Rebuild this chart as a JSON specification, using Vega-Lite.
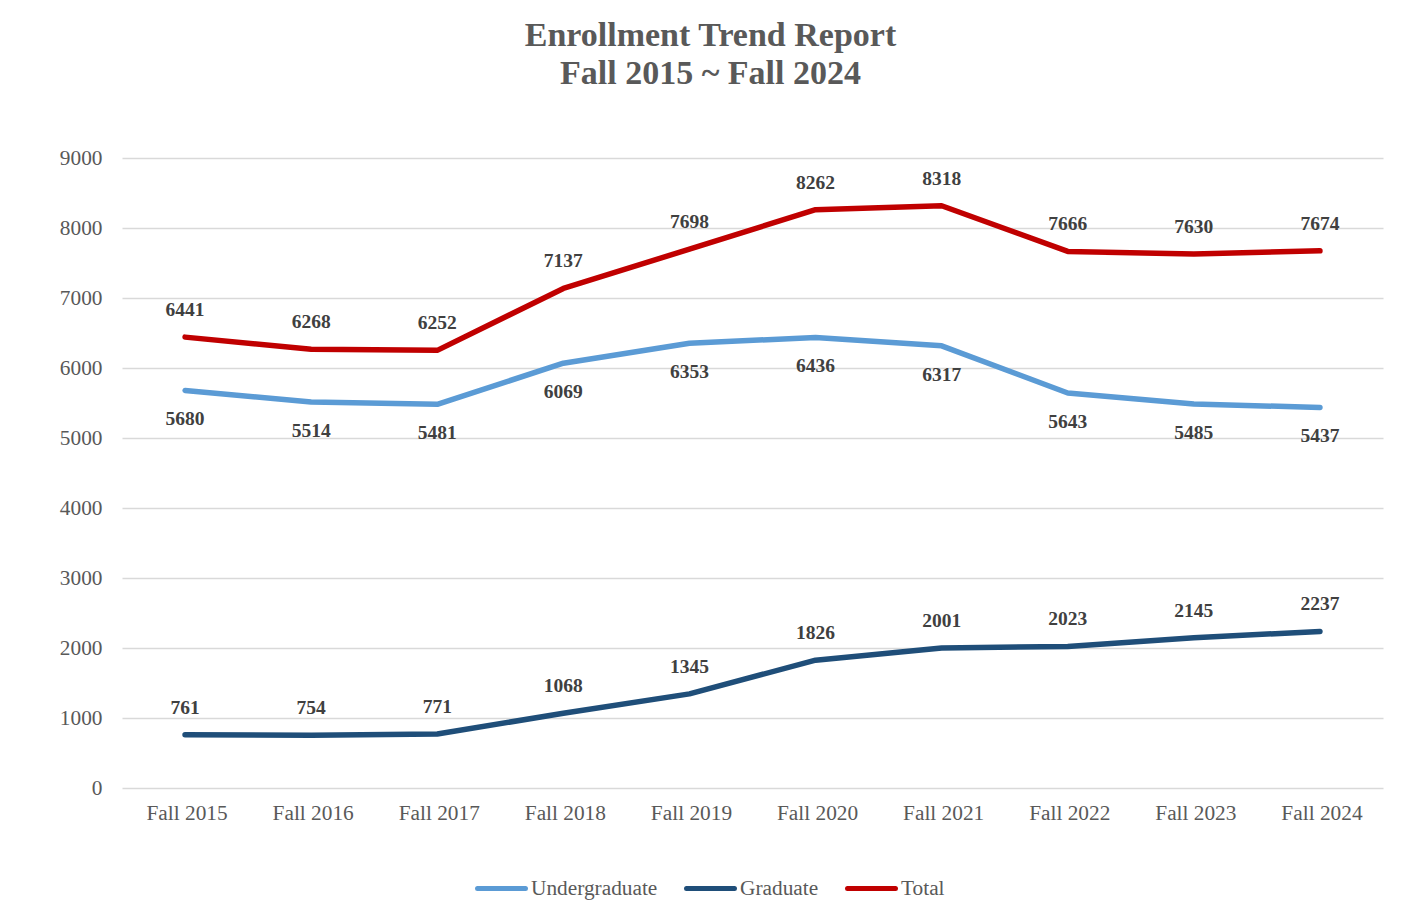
{
  "$schema": "https://vega.github.io/schema/vega-lite/v6.json",
  "autosize": "none",
  "width": 1261,
  "height": 630,
  "padding": {"left": 122, "top": 158, "right": 18, "bottom": 133},
  "background": "white",
  "title": {
    "text": ["Enrollment Trend Report", "Fall 2015 ~ Fall 2024"],
    "font": "Liberation Serif",
    "fontSize": 34,
    "fontWeight": "bold",
    "color": "#595959",
    "lineHeight": 38,
    "anchor": "middle",
    "frame": "group",
    "dx": -42,
    "offset": 56
  },
  "data": {
    "values": [
      {"year": "Fall 2015", "series": "Undergraduate", "value": 5680},
      {"year": "Fall 2016", "series": "Undergraduate", "value": 5514},
      {"year": "Fall 2017", "series": "Undergraduate", "value": 5481},
      {"year": "Fall 2018", "series": "Undergraduate", "value": 6069},
      {"year": "Fall 2019", "series": "Undergraduate", "value": 6353},
      {"year": "Fall 2020", "series": "Undergraduate", "value": 6436},
      {"year": "Fall 2021", "series": "Undergraduate", "value": 6317},
      {"year": "Fall 2022", "series": "Undergraduate", "value": 5643},
      {"year": "Fall 2023", "series": "Undergraduate", "value": 5485},
      {"year": "Fall 2024", "series": "Undergraduate", "value": 5437},
      {"year": "Fall 2015", "series": "Graduate", "value": 761},
      {"year": "Fall 2016", "series": "Graduate", "value": 754},
      {"year": "Fall 2017", "series": "Graduate", "value": 771},
      {"year": "Fall 2018", "series": "Graduate", "value": 1068},
      {"year": "Fall 2019", "series": "Graduate", "value": 1345},
      {"year": "Fall 2020", "series": "Graduate", "value": 1826},
      {"year": "Fall 2021", "series": "Graduate", "value": 2001},
      {"year": "Fall 2022", "series": "Graduate", "value": 2023},
      {"year": "Fall 2023", "series": "Graduate", "value": 2145},
      {"year": "Fall 2024", "series": "Graduate", "value": 2237},
      {"year": "Fall 2015", "series": "Total", "value": 6441},
      {"year": "Fall 2016", "series": "Total", "value": 6268},
      {"year": "Fall 2017", "series": "Total", "value": 6252},
      {"year": "Fall 2018", "series": "Total", "value": 7137},
      {"year": "Fall 2019", "series": "Total", "value": 7698},
      {"year": "Fall 2020", "series": "Total", "value": 8262},
      {"year": "Fall 2021", "series": "Total", "value": 8318},
      {"year": "Fall 2022", "series": "Total", "value": 7666},
      {"year": "Fall 2023", "series": "Total", "value": 7630},
      {"year": "Fall 2024", "series": "Total", "value": 7674}
    ]
  },
  "encoding": {
    "x": {
      "field": "year",
      "type": "ordinal",
      "scale": {"type": "band", "paddingInner": 0, "paddingOuter": 0},
      "axis": {
        "title": null,
        "labelAngle": 0,
        "ticks": false,
        "domain": false,
        "grid": false,
        "labelFont": "Liberation Serif",
        "labelFontSize": 21.33,
        "labelColor": "#595959",
        "labelPadding": 14,
        "labelOffset": 2
      }
    },
    "y": {
      "field": "value",
      "type": "quantitative",
      "scale": {"domain": [0, 9000], "nice": false},
      "axis": {
        "title": null,
        "values": [0, 1000, 2000, 3000, 4000, 5000, 6000, 7000, 8000, 9000],
        "format": "d",
        "ticks": false,
        "domain": false,
        "grid": true,
        "gridColor": "#D9D9D9",
        "gridWidth": 1.5,
        "labelFont": "Liberation Serif",
        "labelFontSize": 21.33,
        "labelColor": "#595959",
        "labelPadding": 20
      }
    }
  },
  "layer": [
    {
      "mark": {"type": "line", "strokeWidth": 5.5, "strokeCap": "round", "strokeJoin": "round"},
      "encoding": {
        "color": {
          "field": "series",
          "type": "nominal",
          "scale": {
            "domain": ["Undergraduate", "Graduate", "Total"],
            "range": ["#5B9BD5", "#1F4E79", "#C00000"]
          },
          "legend": {
            "title": null,
            "orient": "none",
            "direction": "horizontal",
            "legendX": 353,
            "legendY": 704,
            "symbolType": "stroke",
            "symbolStrokeWidth": 5,
            "symbolSize": 2300,
            "labelFont": "Liberation Serif",
            "labelFontSize": 21.33,
            "labelColor": "#595959",
            "labelOffset": 3,
            "columnPadding": 18,
            "encode": {"symbols": {"update": {"strokeCap": {"value": "round"}}}}
          }
        }
      }
    },
    {
      "transform": [{"filter": "datum.series === 'Total' || datum.series === 'Graduate'"}],
      "mark": {"type": "text", "dy": -27, "font": "Liberation Serif", "fontSize": 19.5, "fontWeight": "bold", "color": "#404040"},
      "encoding": {"text": {"field": "value", "type": "quantitative", "format": "d"}}
    },
    {
      "transform": [{"filter": "datum.series === 'Undergraduate'"}],
      "mark": {"type": "text", "dy": 29, "font": "Liberation Serif", "fontSize": 19.5, "fontWeight": "bold", "color": "#404040"},
      "encoding": {"text": {"field": "value", "type": "quantitative", "format": "d"}}
    }
  ],
  "config": {"view": {"stroke": null}}
}
